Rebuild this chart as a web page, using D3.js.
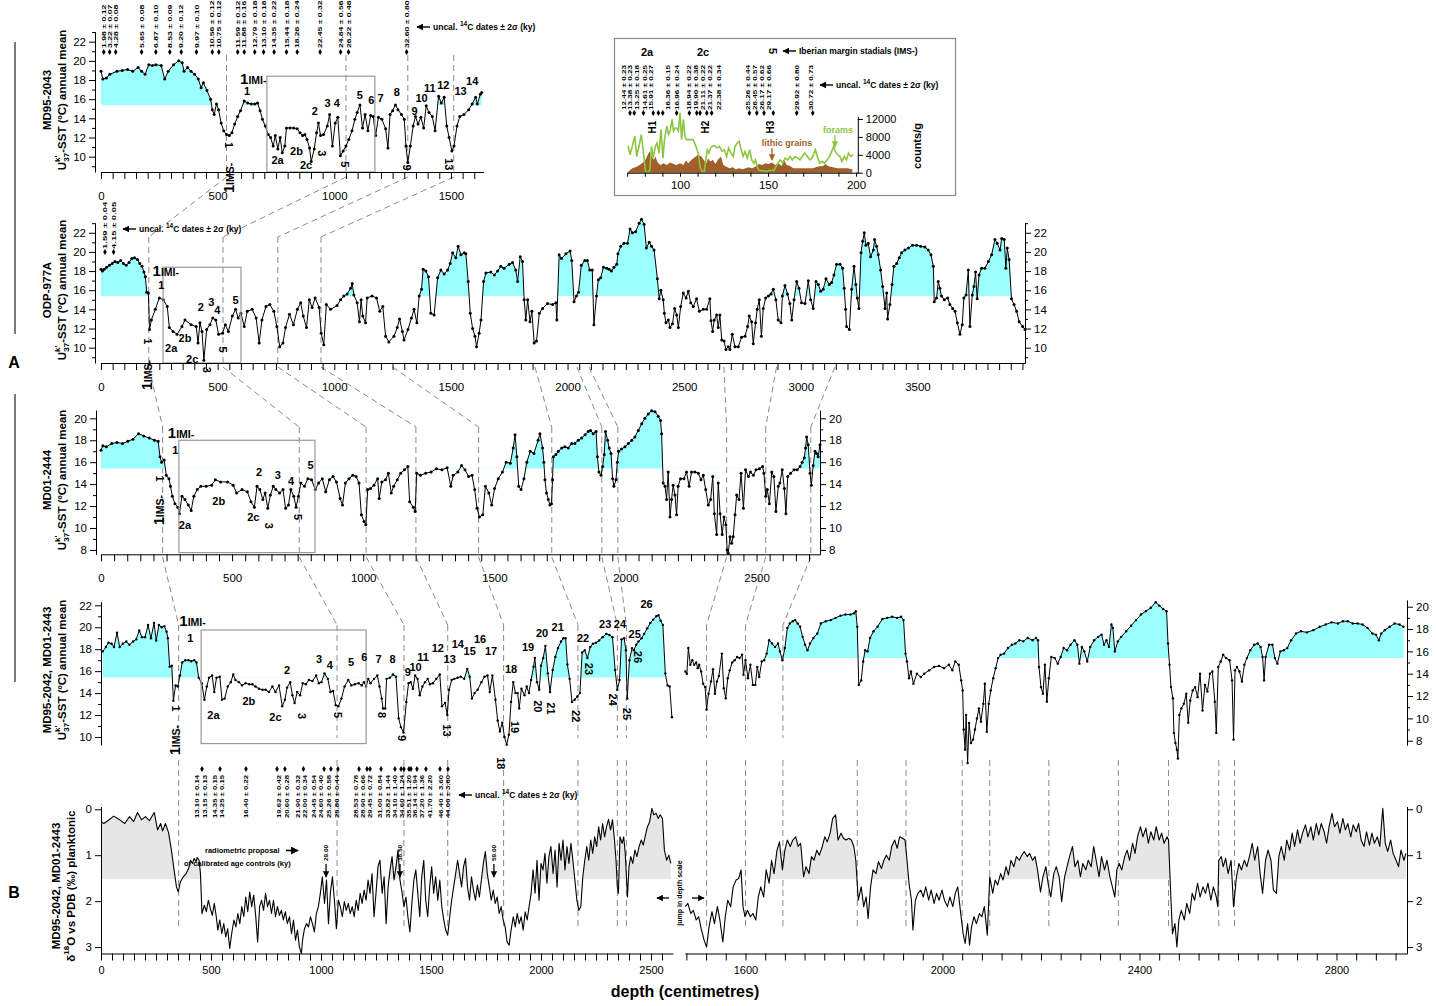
<!DOCTYPE html>
<html>
<head>
<meta charset="utf-8">
<title>SST and d18O records</title>
<script src="https://d3js.org/d3.v7.min.js"></script>
<style>
  body { margin: 0; background: #fff; }
  svg { display: block; }
</style>
</head>
<body>
<svg id="fig" width="1436" height="1006"></svg>
<script>
// ---------- data (depth cm, value) ----------
const md952043 = [[0,18.9],[8,18.1],[23,18.2],[38,18.6],[68,18.9],[91,19.0],[114,19.1],[136,18.9],[159,19.3],[174,18.9],[189,18.6],[205,19.6],[220,19.5],[235,19.6],[258,19.5],[273,18.1],[288,18.9],[311,19.6],[333,20.0],[348,19.8],[356,18.9],[371,19.3],[386,18.9],[401,18.6],[417,18.1],[429,17.2],[439,17.7],[454,16.9],[470,16.0],[477,14.9],[485,14.4],[495,15.5],[504,14.9],[515,13.5],[526,12.7],[538,12.3],[550,12.2],[561,12.5],[573,13.4],[586,14.2],[598,14.8],[614,15.8],[629,15.6],[644,15.5],[659,15.5],[671,15.6],[682,14.8],[692,13.9],[704,13.2],[717,12.3],[727,12.0],[738,11.1],[747,12.2],[758,10.8],[768,12.0],[777,10.4],[788,11.1],[795,13.0],[810,13.0],[826,13.0],[841,12.9],[853,12.5],[864,12.2],[874,12.3],[883,11.8],[894,10.9],[901,9.5],[914,10.8],[924,12.5],[932,13.5],[941,12.2],[954,12.3],[970,13.2],[980,14.4],[992,11.1],[1004,13.5],[1015,14.1],[1026,10.1],[1038,10.6],[1050,11.1],[1062,11.8],[1076,12.7],[1088,13.9],[1098,14.6],[1110,15.4],[1121,13.0],[1132,14.4],[1144,12.7],[1156,14.3],[1167,14.2],[1177,12.2],[1189,14.1],[1204,13.9],[1220,12.9],[1230,10.9],[1239,14.4],[1250,14.8],[1262,15.4],[1273,14.9],[1288,14.4],[1300,13.9],[1307,11.1],[1315,9.4],[1326,11.1],[1338,13.2],[1348,14.2],[1359,13.4],[1371,14.1],[1383,13.0],[1394,15.3],[1406,14.6],[1420,14.2],[1432,12.7],[1447,16.3],[1459,15.6],[1471,16.2],[1482,13.2],[1492,12.0],[1504,10.6],[1513,11.1],[1526,13.2],[1538,14.2],[1556,14.4],[1576,14.9],[1591,15.5],[1606,16.2],[1613,15.5],[1626,16.5],[1632,16.7]];

const odp977a = [[0,18.2],[6,18.0],[14,18.2],[24,18.4],[36,18.6],[48,18.8],[60,19.0],[72,18.9],[84,19.1],[96,18.8],[108,18.6],[120,18.9],[132,19.3],[144,19.4],[156,19.2],[166,18.8],[176,18.5],[184,17.9],[190,17.4],[196,15.8],[203,15.7],[208,11.9],[216,12.9],[233,14.0],[250,15.2],[267,15.0],[284,14.3],[293,12.1],[309,11.7],[326,11.4],[347,12.2],[360,12.9],[386,12.4],[408,12.2],[416,10.5],[424,12.6],[433,11.7],[441,8.7],[453,11.9],[467,12.4],[479,13.1],[492,12.9],[504,11.4],[521,11.5],[533,12.4],[546,11.7],[563,13.3],[577,14.0],[588,13.1],[600,13.6],[614,12.2],[627,13.8],[648,14.0],[665,13.1],[678,10.5],[690,12.9],[707,14.3],[724,14.5],[741,13.8],[754,12.2],[766,10.1],[780,10.5],[791,12.1],[808,13.5],[825,12.4],[842,14.0],[856,14.7],[867,13.3],[881,12.1],[893,15.0],[905,14.2],[918,15.2],[935,14.2],[944,11.5],[955,10.3],[966,14.5],[984,14.0],[1012,14.4],[1027,15.0],[1041,15.4],[1055,15.6],[1070,16.2],[1077,16.7],[1084,15.5],[1098,14.7],[1108,12.7],[1115,15.0],[1122,13.3],[1134,12.6],[1141,15.2],[1162,15.4],[1181,15.2],[1195,13.8],[1208,14.3],[1220,11.2],[1234,10.6],[1256,11.2],[1270,12.1],[1280,13.0],[1292,11.7],[1299,10.8],[1316,11.9],[1331,13.1],[1342,14.0],[1354,12.6],[1364,15.4],[1374,16.1],[1381,18.2],[1393,18.0],[1404,17.4],[1414,13.6],[1428,13.4],[1443,17.3],[1457,18.1],[1471,17.7],[1486,18.1],[1497,18.8],[1507,19.9],[1521,19.4],[1531,20.6],[1543,19.7],[1557,19.9],[1564,19.8],[1574,16.9],[1583,13.6],[1593,12.0],[1603,11.2],[1610,10.1],[1621,11.5],[1629,12.9],[1640,16.9],[1650,17.8],[1671,17.9],[1686,17.6],[1700,18.0],[1714,18.5],[1728,18.3],[1750,18.7],[1764,18.9],[1778,18.1],[1786,16.9],[1797,19.5],[1807,19.0],[1814,15.0],[1821,12.9],[1829,15.0],[1839,12.7],[1847,13.8],[1857,10.5],[1867,10.7],[1879,13.6],[1893,14.1],[1914,14.6],[1936,14.5],[1950,14.7],[1954,12.9],[1964,19.7],[1974,19.3],[1993,19.8],[2011,20.1],[2018,19.1],[2028,14.8],[2038,15.4],[2047,15.8],[2059,18.6],[2074,19.1],[2085,19.1],[2095,18.1],[2106,18.1],[2113,12.4],[2124,15.4],[2132,17.1],[2142,17.3],[2154,18.4],[2168,18.3],[2178,18.2],[2188,18.0],[2199,18.4],[2211,18.7],[2216,19.8],[2228,20.6],[2242,20.9],[2257,20.9],[2268,22.4],[2278,22.0],[2292,22.1],[2307,23.0],[2317,23.4],[2328,22.9],[2338,20.4],[2350,21.0],[2360,20.6],[2371,20.2],[2385,17.2],[2393,15.1],[2400,16.0],[2410,15.0],[2415,13.6],[2422,12.6],[2432,12.9],[2439,12.1],[2450,12.5],[2459,14.1],[2468,13.4],[2475,12.1],[2485,14.3],[2496,15.7],[2508,15.2],[2518,15.9],[2528,14.7],[2539,14.3],[2553,15.1],[2565,13.8],[2582,14.0],[2596,14.0],[2610,15.1],[2615,12.8],[2622,11.7],[2629,12.9],[2639,13.4],[2646,12.1],[2653,13.4],[2661,10.8],[2671,10.7],[2679,9.8],[2689,10.1],[2696,9.8],[2706,11.4],[2718,10.1],[2732,10.1],[2746,11.1],[2761,11.2],[2772,12.2],[2779,13.3],[2789,12.7],[2796,10.4],[2806,12.6],[2813,14.0],[2822,15.0],[2831,11.2],[2839,14.1],[2849,15.2],[2861,15.4],[2872,15.6],[2882,16.1],[2893,15.0],[2903,12.9],[2915,12.6],[2921,15.4],[2932,16.5],[2943,15.6],[2953,14.6],[2961,12.9],[2971,15.0],[2982,16.9],[2992,16.2],[3003,14.7],[3018,14.6],[3032,17.0],[3042,15.0],[3053,14.1],[3065,16.9],[3075,16.6],[3085,15.9],[3096,16.1],[3108,17.2],[3122,16.6],[3132,16.8],[3142,17.6],[3153,18.7],[3168,18.7],[3179,18.3],[3186,16.2],[3192,14.0],[3196,12.2],[3208,11.9],[3218,16.1],[3228,18.5],[3236,16.6],[3242,15.2],[3249,14.1],[3258,19.9],[3265,21.1],[3272,22.0],[3279,20.7],[3289,20.9],[3299,19.5],[3311,20.2],[3316,21.3],[3325,20.6],[3332,19.7],[3342,18.1],[3351,16.4],[3361,14.1],[3368,15.7],[3372,13.0],[3382,14.5],[3391,16.6],[3399,18.5],[3411,18.8],[3422,19.4],[3432,19.9],[3446,20.2],[3461,20.4],[3479,20.7],[3496,20.7],[3514,20.6],[3532,20.5],[3546,20.2],[3558,19.7],[3568,18.5],[3572,14.8],[3582,15.2],[3589,16.9],[3596,16.2],[3603,15.4],[3615,15.0],[3629,15.2],[3639,14.5],[3651,14.1],[3661,13.8],[3671,12.6],[3682,11.4],[3692,12.4],[3699,15.2],[3708,15.5],[3718,18.1],[3725,12.2],[3735,15.5],[3742,16.4],[3749,17.9],[3756,15.1],[3764,17.6],[3775,18.3],[3789,18.3],[3804,19.0],[3818,19.7],[3832,21.3],[3842,20.9],[3854,20.2],[3861,21.4],[3872,21.3],[3879,18.3],[3885,20.4],[3893,19.2],[3903,15.1],[3914,14.5],[3925,13.8],[3936,12.7],[3951,12.2],[3961,11.9]];

const md012444 = [[0,17.1],[7,17.5],[20,17.4],[41,17.7],[61,17.8],[82,17.7],[102,17.9],[122,18.1],[143,18.6],[163,18.4],[184,18.2],[204,18.0],[218,17.9],[225,16.5],[231,16.0],[241,16.2],[249,14.8],[259,14.5],[265,13.8],[272,12.9],[282,12.2],[293,11.9],[299,11.3],[309,12.9],[320,12.6],[333,12.1],[344,11.6],[354,12.9],[367,13.5],[381,13.8],[401,13.8],[422,13.9],[436,14.4],[456,14.2],[483,14.2],[504,13.9],[517,13.2],[538,13.5],[558,13.3],[572,12.4],[585,11.9],[595,13.8],[606,13.5],[617,12.6],[626,13.2],[636,11.8],[646,13.0],[657,13.8],[667,13.5],[681,13.2],[694,13.5],[704,11.8],[715,12.1],[724,13.5],[735,12.9],[744,11.9],[753,12.9],[762,14.1],[776,13.8],[789,14.5],[803,14.4],[817,13.5],[830,14.1],[844,14.5],[857,13.3],[871,14.4],[885,14.7],[898,14.2],[912,12.7],[921,12.1],[932,14.1],[946,14.5],[960,14.8],[973,14.7],[984,14.1],[993,11.2],[1003,10.6],[1010,10.3],[1017,13.5],[1028,13.6],[1041,13.9],[1055,14.5],[1061,12.7],[1071,14.2],[1085,14.4],[1096,15.0],[1107,13.2],[1116,13.8],[1130,14.4],[1143,15.0],[1157,15.3],[1170,15.6],[1177,12.4],[1191,11.9],[1198,11.5],[1204,15.0],[1218,14.8],[1238,15.0],[1259,15.1],[1279,15.4],[1300,15.3],[1320,15.5],[1334,13.8],[1343,14.8],[1361,15.1],[1375,15.7],[1388,15.3],[1402,14.7],[1415,14.8],[1425,13.5],[1434,11.8],[1443,11.0],[1456,11.2],[1466,13.8],[1479,13.2],[1490,12.1],[1501,13.6],[1515,14.5],[1531,15.1],[1545,16.0],[1561,15.9],[1572,17.3],[1579,18.5],[1586,16.5],[1593,13.8],[1602,13.5],[1613,14.5],[1624,16.0],[1637,17.0],[1651,16.8],[1667,18.0],[1674,18.6],[1684,17.3],[1689,16.0],[1693,14.4],[1699,13.2],[1706,12.6],[1712,12.1],[1718,12.2],[1722,14.4],[1725,16.5],[1735,16.7],[1744,17.0],[1757,17.3],[1769,17.4],[1782,17.3],[1795,17.7],[1807,17.7],[1820,18.0],[1833,18.2],[1846,18.5],[1858,18.8],[1867,18.9],[1877,18.6],[1888,18.8],[1893,16.5],[1899,15.1],[1907,14.8],[1913,15.6],[1919,16.7],[1924,18.8],[1932,18.0],[1938,17.3],[1945,16.8],[1951,14.5],[1956,13.8],[1964,14.4],[1969,16.0],[1974,17.0],[1985,17.2],[1998,17.4],[2011,17.7],[2024,18.0],[2036,18.3],[2049,18.9],[2062,19.5],[2074,20.0],[2087,20.4],[2100,20.7],[2113,20.6],[2125,20.2],[2134,19.8],[2138,18.6],[2144,14.1],[2151,13.8],[2157,12.6],[2163,15.1],[2170,11.0],[2176,12.6],[2182,13.9],[2189,13.0],[2195,11.2],[2201,13.8],[2210,14.5],[2223,14.5],[2233,15.1],[2243,13.8],[2252,15.1],[2265,15.1],[2278,15.0],[2288,14.4],[2297,14.8],[2306,13.5],[2316,12.1],[2325,12.6],[2333,14.7],[2339,11.3],[2348,9.4],[2354,14.1],[2361,11.3],[2369,9.4],[2376,11.0],[2383,10.3],[2388,8.0],[2392,7.7],[2399,9.2],[2405,8.6],[2411,9.2],[2418,11.2],[2424,13.0],[2433,12.6],[2441,15.0],[2450,11.8],[2458,15.3],[2469,14.7],[2477,15.1],[2488,14.8],[2498,15.3],[2511,15.4],[2523,15.6],[2528,15.0],[2535,12.9],[2541,13.5],[2549,12.2],[2558,15.1],[2566,14.7],[2574,11.5],[2583,13.8],[2589,14.1],[2598,15.3],[2606,13.6],[2612,11.3],[2619,14.7],[2630,15.0],[2643,15.3],[2655,15.3],[2666,15.6],[2674,16.0],[2682,16.4],[2687,17.3],[2691,18.3],[2697,17.6],[2704,15.0],[2709,13.9],[2716,15.7],[2723,17.0],[2729,16.8],[2735,16.5],[2742,17.6]];

const md952042sstA = [[8,17.8],[22,18.2],[34,18.6],[48,18.5],[59,18.2],[73,19.5],[85,18.2],[99,18.5],[115,18.7],[129,18.4],[146,18.7],[160,18.9],[174,19.7],[186,19.1],[200,19.1],[214,20.2],[227,19.0],[241,20.4],[251,18.8],[263,20.2],[276,20.0],[288,20.1],[298,19.6],[304,19.0],[312,16.4],[322,16.5],[329,13.3],[339,14.7],[349,14.6],[359,15.6],[369,16.8],[383,17.0],[398,17.0],[410,16.9],[424,17.0],[434,16.8],[444,15.4],[458,14.9],[470,13.4],[481,14.6],[491,15.4],[505,15.6],[515,14.1],[525,15.4],[540,15.5],[550,13.4],[562,13.5],[576,14.6],[590,15.0],[601,15.7],[611,15.2],[627,15.0],[641,14.7],[657,14.9],[674,14.8],[688,14.8],[702,14.6],[718,14.4],[734,14.3],[748,14.3],[763,14.1],[779,14.6],[793,14.1],[809,14.7],[824,12.8],[836,13.4],[846,14.5],[860,15.0],[870,13.8],[880,13.1],[892,14.1],[905,13.8],[917,14.9],[931,14.8],[945,15.2],[961,15.1],[978,15.6],[990,14.9],[1002,15.0],[1016,15.8],[1031,15.3],[1043,14.1],[1055,14.2],[1067,12.9],[1079,12.8],[1093,13.5],[1107,14.6],[1124,15.2],[1138,14.7],[1154,14.8],[1171,14.9],[1185,14.7],[1195,15.0],[1205,14.6],[1215,15.3],[1225,14.9],[1241,15.3],[1256,15.6],[1266,14.6],[1276,13.5],[1282,12.6],[1292,12.6],[1298,15.3],[1313,15.4],[1327,15.7],[1341,15.5],[1353,11.7],[1363,10.9],[1375,10.4],[1388,13.2],[1398,14.9],[1408,15.0],[1418,14.4],[1428,15.6],[1439,15.3],[1449,13.8],[1461,14.6],[1473,15.0],[1485,15.3],[1495,14.8],[1509,14.9],[1524,15.3],[1540,15.7],[1550,12.8],[1564,13.1],[1574,12.0],[1582,14.3],[1594,15.2],[1606,15.3],[1621,15.4],[1635,15.5],[1651,15.3],[1665,16.2],[1676,15.5],[1686,13.5],[1698,14.0],[1712,14.3],[1729,15.0],[1743,15.5],[1757,15.6],[1767,14.1],[1779,15.6],[1793,13.4],[1803,11.5],[1813,10.5],[1824,11.3],[1834,10.0],[1844,9.3],[1854,10.2],[1864,13.2],[1874,15.0],[1884,14.0],[1894,14.0],[1901,12.6],[1911,14.4],[1925,13.8],[1935,14.6],[1945,14.0],[1955,15.2],[1966,16.4],[1972,17.2],[1982,15.0],[1992,14.3],[2000,16.5],[2010,17.2],[2020,18.3],[2031,15.8],[2041,14.1],[2053,16.1],[2065,17.3],[2077,18.1],[2091,18.7],[2102,19.0],[2112,19.0],[2120,16.6],[2130,15.3],[2141,13.2],[2153,13.4],[2165,13.7],[2177,14.0],[2187,17.7],[2199,17.9],[2211,17.2],[2224,18.2],[2236,18.5],[2250,18.6],[2264,18.8],[2280,19.1],[2297,19.4],[2311,19.3],[2325,19.1],[2337,16.1],[2347,14.3],[2357,15.2],[2366,18.9],[2378,19.0],[2386,17.9],[2392,13.5],[2402,17.0],[2414,18.1],[2422,17.9],[2433,18.4],[2443,18.7],[2457,19.0],[2469,19.4],[2483,19.9],[2497,20.4],[2510,20.7],[2524,21.0],[2534,21.1],[2544,20.6],[2554,20.2],[2565,15.8],[2575,14.7],[2585,14.6],[2595,11.8]];

const md952042sstB = [[1478,14.2],[1481,14.0],[1484,16.3],[1488,14.8],[1492,15.2],[1496,14.8],[1500,15.0],[1503,14.5],[1506,14.8],[1510,14.2],[1514,13.1],[1518,12.8],[1521,10.8],[1525,12.2],[1530,13.3],[1534,14.4],[1538,12.2],[1542,13.3],[1546,13.8],[1552,15.8],[1556,12.7],[1560,11.8],[1564,13.6],[1568,14.3],[1573,15.0],[1578,15.2],[1583,15.5],[1588,15.4],[1593,15.7],[1596,13.9],[1600,15.2],[1605,13.6],[1610,14.8],[1615,13.0],[1620,13.0],[1624,14.6],[1628,13.7],[1633,15.1],[1638,15.2],[1643,15.8],[1648,17.0],[1654,16.7],[1660,16.4],[1666,16.7],[1670,16.0],[1675,15.2],[1680,16.3],[1685,18.1],[1690,18.5],[1696,18.7],[1701,18.8],[1706,18.5],[1711,18.2],[1716,17.3],[1721,16.6],[1726,16.1],[1731,16.7],[1738,17.2],[1746,17.6],[1753,18.5],[1763,18.7],[1773,18.8],[1783,19.0],[1793,19.2],[1803,19.3],[1813,19.3],[1820,19.4],[1824,19.6],[1827,18.2],[1830,13.0],[1835,13.4],[1839,15.1],[1843,16.1],[1848,16.0],[1853,17.2],[1860,17.8],[1868,18.2],[1878,18.9],[1888,19.0],[1898,19.1],[1908,19.0],[1916,19.1],[1921,18.8],[1925,15.8],[1928,15.1],[1932,13.6],[1936,14.2],[1941,13.1],[1948,14.0],[1956,13.7],[1963,14.0],[1973,14.3],[1983,14.6],[1993,14.7],[2003,14.5],[2013,14.8],[2020,14.3],[2026,15.1],[2033,14.8],[2038,13.4],[2041,12.5],[2043,9.0],[2046,7.2],[2048,10.3],[2051,6.0],[2054,9.6],[2058,7.8],[2062,8.1],[2066,9.0],[2070,10.0],[2074,10.9],[2078,9.7],[2083,11.3],[2086,13.1],[2090,8.8],[2094,11.3],[2098,12.5],[2103,13.6],[2108,14.5],[2113,15.4],[2118,15.7],[2125,15.8],[2133,16.3],[2141,16.6],[2148,16.7],[2156,17.0],[2164,16.9],[2173,17.2],[2183,17.0],[2190,17.2],[2194,17.0],[2196,14.6],[2200,12.8],[2204,12.2],[2208,14.8],[2212,11.5],[2216,13.6],[2221,15.5],[2228,15.4],[2234,14.9],[2240,15.5],[2246,16.3],[2253,16.1],[2260,16.6],[2268,17.0],[2274,16.6],[2278,14.9],[2283,16.4],[2288,16.0],[2294,15.1],[2300,16.4],[2308,17.0],[2316,17.3],[2323,17.5],[2328,16.6],[2333,17.0],[2338,16.4],[2343,18.4],[2346,18.1],[2350,16.0],[2356,16.9],[2363,17.3],[2373,17.8],[2383,18.3],[2393,18.8],[2403,19.3],[2413,19.6],[2423,19.9],[2433,20.4],[2440,20.1],[2448,19.8],[2455,19.6],[2458,16.7],[2461,14.8],[2464,12.8],[2468,11.8],[2470,8.7],[2473,7.8],[2476,7.2],[2478,6.4],[2481,10.3],[2485,10.9],[2490,11.3],[2495,12.2],[2499,9.6],[2503,11.6],[2508,12.5],[2513,12.8],[2518,11.9],[2523,14.0],[2528,10.7],[2533,13.0],[2538,12.4],[2543,14.0],[2548,14.2],[2553,11.5],[2556,8.7],[2560,14.6],[2565,15.1],[2570,15.7],[2576,15.4],[2583,15.2],[2588,13.4],[2591,8.1],[2594,14.3],[2598,14.6],[2603,14.2],[2608,13.3],[2613,14.8],[2618,15.4],[2625,16.1],[2633,16.6],[2640,16.7],[2646,16.4],[2650,15.5],[2653,13.4],[2656,15.5],[2663,16.6],[2670,16.6],[2675,15.4],[2680,14.9],[2686,16.0],[2693,16.1],[2700,16.3],[2708,17.0],[2718,17.6],[2728,17.8],[2740,17.7],[2753,17.9],[2766,18.2],[2778,18.4],[2790,18.6],[2803,18.5],[2813,18.7],[2823,18.7],[2833,18.5],[2843,18.5],[2853,18.4],[2863,18.1],[2873,17.6],[2880,17.5],[2886,17.0],[2891,17.6],[2898,17.9],[2908,18.2],[2918,18.5],[2928,18.4],[2936,18.2]];

const d18oA = [[0,0.27],[13,0.31],[31,0.25],[58,0.15],[85,0.23],[108,0.31],[130,0.16],[148,0.27],[166,0.07],[184,0.23],[202,0.16],[220,0.25],[242,0.07],[257,0.45],[271,0.31],[280,0.47],[293,0.31],[307,0.51],[320,0.89],[332,1.32],[343,1.69],[351,1.80],[361,1.58],[374,1.47],[387,1.40],[398,1.29],[407,1.11],[416,1.18],[423,1.07],[432,1.14],[437,1.05],[446,1.11],[452,1.40],[459,2.27],[470,2.09],[479,2.23],[488,1.98],[497,2.16],[506,2.31],[515,2.05],[524,2.34],[531,2.63],[540,2.41],[549,2.71],[558,2.49],[567,2.78],[576,2.60],[585,3.03],[594,2.71],[604,2.41],[613,2.56],[622,2.27],[631,2.49],[640,2.12],[649,2.34],[658,1.91],[667,2.23],[676,1.80],[685,2.12],[694,1.87],[703,2.31],[712,2.89],[721,2.12],[730,1.98],[739,2.20],[748,1.83],[757,2.12],[766,1.98],[775,2.27],[784,1.98],[793,2.34],[802,2.12],[811,2.31],[820,2.20],[829,2.41],[838,2.23],[847,2.49],[857,2.34],[866,2.71],[875,2.41],[884,2.85],[893,2.63],[902,3.0],[911,3.14],[916,2.85],[925,2.60],[934,2.49],[943,2.56],[952,2.34],[961,2.49],[970,2.67],[979,2.27],[988,2.12],[997,1.83],[1006,1.47],[1016,2.05],[1025,1.54],[1034,2.49],[1043,1.80],[1052,1.47],[1061,1.98],[1070,2.60],[1079,1.98],[1088,2.12],[1097,2.34],[1106,2.01],[1115,2.20],[1124,2.05],[1133,2.27],[1142,2.12],[1151,2.34],[1160,1.98],[1169,2.20],[1178,1.83],[1187,2.05],[1196,1.76],[1205,1.98],[1214,1.54],[1223,1.83],[1232,1.40],[1241,2.34],[1250,1.83],[1259,1.25],[1268,1.11],[1278,1.83],[1287,1.47],[1296,2.49],[1305,1.69],[1314,1.32],[1323,1.03],[1332,1.54],[1341,1.25],[1350,0.89],[1359,1.54],[1368,1.80],[1377,2.12],[1386,1.91],[1395,2.34],[1404,2.67],[1413,2.05],[1422,1.54],[1431,1.32],[1440,1.83],[1449,2.34],[1458,1.47],[1467,1.11],[1476,1.98],[1485,2.34],[1494,1.69],[1503,1.25],[1512,1.83],[1521,1.47],[1531,1.98],[1540,1.54],[1549,2.12],[1558,2.41],[1567,2.63],[1576,2.74],[1585,2.34],[1594,1.98],[1603,1.69],[1612,1.40],[1621,1.11],[1630,1.40],[1639,1.69],[1648,1.25],[1657,1.07],[1666,1.69],[1675,1.98],[1684,1.47],[1693,1.76],[1702,1.98],[1711,1.65],[1720,1.91],[1729,1.54],[1738,1.18],[1747,0.92],[1756,1.40],[1765,1.69],[1774,1.98],[1783,1.76],[1792,2.05],[1801,1.91],[1810,2.27],[1819,2.12],[1828,2.41],[1837,2.56],[1846,2.89],[1855,2.96],[1864,2.63],[1874,2.34],[1883,2.56],[1892,2.27],[1901,2.49],[1910,2.34],[1919,2.63],[1928,2.23],[1937,2.41],[1946,2.12],[1955,1.83],[1964,1.32],[1973,1.83],[1982,1.11],[1991,1.98],[2000,1.18],[2009,1.32],[2018,0.96],[2027,1.61],[2036,1.03],[2045,0.81],[2055,1.40],[2064,0.89],[2073,1.69],[2082,0.74],[2091,1.11],[2100,0.67],[2109,1.32],[2118,0.81],[2127,1.18],[2136,0.74],[2145,1.11],[2154,1.54],[2163,1.98],[2172,2.20],[2181,2.12],[2190,1.47],[2199,1.11],[2208,0.81],[2217,1.11],[2226,0.67],[2235,0.96],[2244,0.60],[2253,0.81],[2262,0.38],[2271,0.67],[2280,0.31],[2289,0.60],[2298,0.38],[2307,0.22],[2316,0.45],[2325,0.23],[2334,0.67],[2341,1.11],[2347,1.69],[2352,1.83],[2359,0.60],[2369,0.74],[2376,0.60],[2383,0.96],[2393,1.91],[2400,1.25],[2408,1.03],[2417,1.18],[2427,0.89],[2436,1.03],[2446,0.81],[2456,0.67],[2465,0.78],[2475,0.56],[2484,0.38],[2494,0.27],[2504,-0.02],[2513,0.12],[2523,0.09],[2533,0.20],[2542,0.12],[2552,0.20],[2561,0.89],[2571,1.11],[2581,1.00],[2590,1.18]];

const d18oB = [[1478,2.12],[1483,2.05],[1489,2.27],[1494,2.20],[1500,2.41],[1505,2.34],[1510,2.60],[1516,2.85],[1521,3.0],[1526,2.56],[1532,2.23],[1537,2.49],[1543,2.12],[1548,2.41],[1554,2.89],[1559,2.34],[1564,1.98],[1570,2.12],[1575,1.69],[1581,1.54],[1586,1.51],[1591,1.32],[1595,2.12],[1599,2.34],[1604,2.20],[1610,2.34],[1615,2.27],[1621,2.41],[1626,1.91],[1631,1.69],[1637,1.91],[1642,1.32],[1648,1.61],[1653,1.11],[1658,1.40],[1664,0.89],[1669,0.71],[1675,1.32],[1680,0.89],[1685,0.67],[1691,0.81],[1696,0.67],[1702,0.60],[1707,0.81],[1712,0.74],[1718,1.47],[1723,1.25],[1729,1.40],[1734,1.03],[1739,1.11],[1745,0.89],[1750,1.00],[1756,0.81],[1761,0.60],[1766,0.71],[1772,0.52],[1777,0.20],[1783,0.12],[1788,0.67],[1794,0.52],[1799,0.63],[1804,0.67],[1810,0.63],[1815,0.67],[1820,0.81],[1824,1.11],[1829,1.98],[1835,1.69],[1840,2.12],[1845,1.91],[1849,2.38],[1854,1.69],[1859,1.32],[1865,1.40],[1870,1.14],[1876,1.29],[1881,1.11],[1886,1.00],[1892,1.11],[1897,0.81],[1903,0.67],[1908,0.85],[1913,0.60],[1919,0.63],[1924,0.67],[1928,1.11],[1932,1.61],[1937,1.98],[1940,2.63],[1945,1.98],[1950,1.83],[1956,1.76],[1961,1.91],[1966,1.69],[1972,1.98],[1977,1.76],[1983,2.05],[1988,1.83],[1993,1.98],[1999,1.76],[2004,1.98],[2010,2.12],[2015,1.91],[2021,2.12],[2026,1.83],[2031,1.69],[2037,2.27],[2042,2.71],[2046,2.92],[2051,2.49],[2055,2.96],[2059,2.56],[2064,2.34],[2069,2.49],[2075,2.27],[2080,2.34],[2085,2.12],[2091,2.74],[2096,1.47],[2102,1.83],[2107,1.54],[2112,1.65],[2118,1.40],[2123,1.54],[2129,1.25],[2134,1.43],[2139,1.11],[2145,1.25],[2150,1.03],[2156,1.11],[2161,1.00],[2166,0.92],[2172,1.03],[2177,0.96],[2183,1.11],[2188,1.03],[2193,1.32],[2199,1.80],[2204,1.47],[2210,1.25],[2215,1.65],[2220,1.91],[2226,1.40],[2231,1.25],[2237,1.47],[2242,2.01],[2248,1.47],[2253,1.25],[2258,1.03],[2264,0.81],[2269,1.25],[2275,1.11],[2280,1.47],[2285,1.18],[2291,1.32],[2296,1.11],[2302,1.25],[2307,0.81],[2312,1.11],[2318,1.47],[2323,1.03],[2329,1.32],[2334,1.11],[2340,1.47],[2345,1.69],[2350,1.91],[2354,1.32],[2359,1.18],[2364,1.32],[2370,1.03],[2375,0.89],[2380,1.11],[2386,0.74],[2391,0.96],[2396,0.60],[2402,0.38],[2407,0.60],[2413,0.41],[2418,0.74],[2423,0.49],[2429,0.67],[2434,0.38],[2440,0.67],[2445,0.52],[2450,0.74],[2456,0.60],[2459,0.67],[2464,1.98],[2467,2.71],[2472,2.49],[2476,3.0],[2480,2.41],[2485,2.20],[2491,2.41],[2496,2.05],[2502,2.27],[2507,1.83],[2512,1.98],[2518,1.61],[2523,1.91],[2529,1.69],[2534,1.83],[2539,1.61],[2545,1.98],[2550,1.69],[2556,1.91],[2559,2.12],[2561,1.11],[2566,1.03],[2570,1.25],[2575,1.07],[2580,1.40],[2586,1.11],[2591,2.12],[2597,1.47],[2602,1.18],[2607,1.32],[2613,1.11],[2618,1.25],[2624,1.00],[2629,0.74],[2634,1.11],[2640,0.81],[2645,1.40],[2650,1.83],[2656,1.11],[2661,0.89],[2667,1.11],[2672,1.76],[2678,1.83],[2683,1.03],[2688,0.81],[2694,1.11],[2699,0.67],[2705,0.89],[2710,0.52],[2715,0.81],[2721,0.45],[2726,0.74],[2731,0.52],[2737,0.34],[2742,0.60],[2748,0.38],[2753,0.67],[2759,0.31],[2764,0.56],[2769,0.31],[2775,0.49],[2780,0.74],[2785,0.38],[2791,0.09],[2796,0.38],[2802,0.27],[2807,0.52],[2813,0.20],[2818,0.45],[2823,0.31],[2829,0.60],[2834,0.34],[2840,0.49],[2845,0.31],[2850,0.67],[2856,0.81],[2861,0.49],[2867,0.78],[2872,0.52],[2877,0.74],[2883,0.60],[2888,0.81],[2894,-0.02],[2899,0.74],[2904,0.92],[2910,0.67],[2915,0.96],[2921,1.11],[2926,1.25],[2931,0.89],[2937,1.11],[2941,0.96]];

// inset: forams and lithic grains (counts/g) against depth
const insetForams = [[70.5,6040],[71.6,4000],[72.9,5900],[74.3,8150],[75.4,3620],[76.7,5900],[78.0,8530],[79.5,3620],[80.4,230],[81.7,0],[82.8,600],[83.8,5900],[84.7,3250],[86.0,5900],[86.9,6640],[88.1,4380],[89.2,9660],[90.3,3250],[91.2,7400],[92.5,10400],[93.5,8530],[94.4,9290],[95.5,11900],[96.3,9290],[97.2,10000],[98.1,10000],[99.1,9290],[100,13400],[100.9,7400],[101.9,11900],[102.8,8150],[103.7,7400],[105.6,7400],[107.5,7400],[109.0,5900],[110.3,4380],[111.6,980],[112.7,230],[113.8,230],[114.6,2870],[115.5,5130],[116.4,4380],[117.4,5510],[118.3,5900],[119.6,6040],[121.1,5510],[122.4,5900],[123.9,4760],[125.2,5130],[126.5,3620],[127.6,5510],[128.9,4380],[130.2,3620],[131.3,5900],[132.6,6640],[133.6,7020],[134.5,5510],[135.8,3620],[136.9,4760],[138.2,3250],[139.6,5130],[140.7,2870],[142.0,2110],[142.9,2870],[143.8,1360],[144.8,600],[146.3,450],[147.6,450],[149.4,230],[151.3,600],[153.2,450],[154.5,1360],[155.6,2110],[156.9,2870],[158.2,2110],[159.7,3250],[161.2,2870],[162.5,3620],[163.8,2870],[165.3,3620],[166.8,3250],[168.1,2870],[169.4,3620],[170.9,4380],[172.4,3620],[173.7,2870],[175.0,3250],[176.1,4380],[176.9,5130],[178.0,3620],[179.3,2110],[180.6,2490],[182.1,2110],[183.6,2870],[184.9,3620],[186.2,4760],[187.3,5900],[188.2,4760],[189.6,4000],[190.9,3620],[192.0,2490],[193.3,3620],[194.6,2870],[195.7,4380],[197.0,3620],[198.5,4000]];
const insetLithic = [[70.5,230],[72.9,980],[75.7,1360],[78.5,2110],[80.4,2870],[81.7,4000],[82.8,4760],[83.8,3620],[85.1,2870],[86.0,3620],[87.3,2260],[88.8,1740],[90.7,2110],[92.5,1740],[94.4,2260],[96.3,1960],[98.1,1740],[100,2110],[101.9,1740],[103.4,2720],[104.7,2110],[106.5,2870],[108.4,3470],[110.3,4000],[112.1,3620],[113.4,2870],[114.9,2110],[115.9,3250],[117.2,2490],[118.7,2870],[120.1,1960],[121.5,2870],[123.3,3620],[124.6,1740],[126.1,1360],[128.0,980],[129.9,1210],[131.7,750],[133.6,980],[135.4,750],[137.3,980],[139.2,1210],[141.0,980],[142.9,1360],[144.8,1960],[146.6,1740],[148.5,2110],[150.4,1960],[152.2,2260],[154.1,1740],[156.0,2110],[157.8,1510],[159.3,2720],[160.6,1740],[162.5,1510],[164.4,980],[167.2,980],[170.0,980],[172.8,980],[175.6,980],[178.4,1360],[181.2,1510],[182.5,1960],[184.0,1510],[186.8,1210],[189.6,980],[192.4,980],[195.1,980],[197.9,750]];

// radiocarbon dates (depth, label)
const p1Dates = [[12,"1.98 ± 0.12"],[37,"3.22 ± 0.07"],[63,"4.28 ± 0.08"],[174,"5.65 ± 0.08"],[235,"6.87 ± 0.10"],[295,"8.53 ± 0.09"],[344,"9.20 ± 0.12"],[409,"9.97 ± 0.10"],[477,"10.56 ± 0.12"],[505,"10.75 ± 0.12"],[586,"11.59 ± 0.12"],[614,"11.88 ± 0.16"],[659,"12.79 ± 0.18"],[697,"13.10 ± 0.18"],[742,"14.35 ± 0.22"],[795,"15.44 ± 0.18"],[841,"18.26 ± 0.24"],[939,"22.45 ± 0.32"],[1027,"24.84 ± 0.56"],[1061,"26.22 ± 0.48"],[1310,"32.60 ± 0.80"]];
const p2Dates = [[17,"1.59 ± 0.04"],[54,"4.15 ± 0.05"]];
const insetDates = [[68.2,"12.44 ± 0.23"],[71.6,"13.38 ± 0.23"],[75.6,"13.25 ± 0.18"],[80.1,"14.61 ± 0.25"],[83.5,"15.91 ± 0.27"],[93.2,"16.36 ± 0.15"],[98.3,"16.96 ± 0.24"],[105.1,"18.94 ± 0.22"],[109.1,"19.90 ± 0.38"],[113.1,"21.11 ± 0.22"],[117.0,"21.37 ± 0.22"],[122.2,"22.38 ± 0.34"],[138.6,"25.26 ± 0.44"],[142.6,"26.45 ± 0.57"],[146.6,"26.17 ± 0.62"],[150.6,"29.17 ± 0.66"],[166.5,"29.92 ± 0.80"],[174.4,"30.72 ± 0.73"]];
const insetDiamonds = [71.6,74.0,79.2,84.8,87.7,90.2,98.1,105.3,109.5,111.4,115.2,118.0,139.4,143.6,147.7,153.0,166.3,175.4];
const p5Dates = [[436,"13.10 ± 0.14"],[473,"13.15 ± 0.13"],[518,"14.35 ± 0.15"],[550,"14.25 ± 0.15"],[659,"16.40 ± 0.22"],[809,"19.62 ± 0.42"],[845,"20.60 ± 0.28"],[895,"21.90 ± 0.32"],[927,"22.00 ± 0.34"],[968,"24.45 ± 0.54"],[1000,"24.60 ± 0.40"],[1036,"25.26 ± 0.58"],[1073,"25.80 ± 0.44"],[1159,"28.53 ± 0.78"],[1191,"28.90 ± 0.66"],[1223,"29.45 ± 0.72"],[1268,"31.00 ± 0.84"],[1305,"33.82 ± 1.44"],[1336,"34.10 ± 1.40"],[1368,"34.60 ± 1.24"],[1400,"35.51 ± 1.20"],[1427,"36.14 ± 1.94"],[1459,"37.20 ± 1.36"],[1495,"41.70 ± 2.20"],[1545,"46.40 ± 3.60"],[1577,"44.00 ± 3.80"]];
const p5Diamonds = [459,541,659,800,836,920,1014,1045,1077,1173,1209,1223,1273,1336,1364,1377,1400,1409,1436,1477,1541,1577];
const p5CalAges = [[1023,"29.00"],[1359,"38.50"],[1786,"59.00"]];

// stadial / interstadial labels (depth, SST, text)
const p1Labels = [[626,16.8,"1"],[757,9.7,"2a"],[838,10.6,"2b"],[879,9.1,"2c"],[917,14.8,"2"],[971,15.6,"3"],[1011,15.6,"4"],[1109,16.4,"5"],[1159,15.9,"6"],[1198,16.1,"7"],[1268,16.7,"8"],[1344,14.8,"9"],[1374,16.1,"10"],[1409,17.2,"11"],[1467,17.5,"12"],[1541,16.8,"13"],[1591,17.9,"14"]];
const p1Rot = [[550,11.2,"1"],[947,10.35,"3"],[1045,9.2,"5"],[1310,8.85,"9"],[1492,9.2,"13"]];
const p2Labels = [[259,16.5,"1"],[301,10.0,"2a"],[360,11.0,"2b"],[391,8.8,"2c"],[428,14.2,"2"],[473,14.8,"3"],[499,13.9,"4"],[577,15.0,"5"]];
const p2Rot = [[200,10.66,"1"],[524,9.8,"5"],[453,7.7,"3"]];
const p3Labels = [[283,17.1,"1"],[320,10.3,"2a"],[449,12.5,"2b"],[581,11.0,"2c"],[603,15.1,"2"],[674,14.8,"3"],[725,14.3,"4"],[799,15.7,"5"]];
const p3Rot = [[225,14.5,"1"],[642,10.2,"3"],[750,11.0,"5"]];
const p4Labels = [[406,19.0,"1"],[511,12.0,"2a"],[672,13.3,"2b"],[793,11.8,"2c"],[846,16.1,"2"],[991,17.1,"3"],[1040,16.6,"4"],[1137,16.8,"5"],[1197,17.3,"6"],[1262,17.1,"7"],[1325,17.1,"8"],[1395,15.9,"9"],[1430,16.4,"10"],[1464,17.3,"11"],[1531,18.1,"12"],[1585,17.1,"13"],[1622,18.5,"14"],[1676,17.8,"15"],[1723,18.9,"16"],[1773,17.8,"17"],[1864,16.2,"18"],[1941,18.2,"19"],[2005,19.5,"20"],[2076,20.0,"21"],[2191,19.0,"22"],[2292,20.3,"23"],[2359,20.3,"24"],[2426,19.4,"25"],[2480,22.1,"26"]];
const p4Rot = [[339,12.6,"1"],[915,11.9,"3"],[1076,12.0,"5"],[1278,12.0,"8"],[1369,9.9,"9"],[1571,10.6,"13"],[1819,7.6,"18"],[1880,10.9,"19"],[1985,12.8,"20"],[2046,12.6,"21"],[2161,11.9,"22"],[2218,16.2,"23"],[2329,13.4,"24"],[2389,12.1,"25"],[2440,17.3,"26"]];
// [depth, value] of the "1IMI-" and "1IMS-" tags
const imiTags = [[596,17.6],[221,17.5],[255,18.2],[356,20.1]];
const imsTags = [[548,7.8],[196,7.15],[221,11.64],[335,9.72]];
// boxes [depth0, depth1, value0, value1]
const boxes = [[711,1174,8.4,18.4],[266,600,8.4,18.4],[297,816,7.75,18.0],[455,1205,9.4,19.75]];

// tie points between cores (depths)
const ties12 = [[538,205],[1050,523],[1315,758],[1512,943]];
const ties23 = [[205,235],[523,756],[758,1011],[943,1201],[1250,1440],[1860,1719],[2040,1910],[2092,1971],[2670,2386],[2896,2535],[3146,2707]];
const ties34 = [[235,353,"A"],[756,1073,"A"],[1011,1377,"A"],[1201,1576,"A"],[1440,1830,"A"],[1719,2168,"A"],[1910,2347,"A"],[1971,2388,"A"],[2386,1521,"B"],[2535,1600,"B"],[2707,1676,"B"]];
const ties5only = [1827,1926,2040,2096,2216,2357,2459,2561,2593];

const SST_THR = 15.4;
const D18O_THR = 1.52;

// ---------- drawing ----------
const FONT = '"Liberation Sans", Arial, Helvetica, sans-serif';
const CYAN = "#99ffff";
const GREY_FILL = "#e6e6e6";
const DASH = "#8a8a8a";

const svg = d3.select("#fig").attr("font-family", FONT);
svg.append("rect").attr("width", 1436).attr("height", 1006).attr("fill", "#fff");
const defs = svg.append("defs");
function marker(id, color) {
  defs.append("marker").attr("id", id).attr("viewBox", "0 0 10 10")
    .attr("refX", 9).attr("refY", 5).attr("markerWidth", 5).attr("markerHeight", 5)
    .attr("orient", "auto")
    .append("path").attr("d", "M0,0L10,5L0,10z").attr("fill", color);
}
marker("ahK", "#000");
marker("ahG", "#8cc63f");
marker("ahB", "#a0602a");

// scales
const x1 = d3.scaleLinear().domain([0, 1640]).range([101, 101 + 1640 * 0.2333]);
const y1 = d3.scaleLinear().domain([8.4, 23.05]).range([172, 31.6]);
const x2 = d3.scaleLinear().domain([0, 3961]).range([101, 1025]);
const y2 = d3.scaleLinear().domain([8.4, 23.05]).range([363, 222.7]);
const x3 = d3.scaleLinear().domain([0, 2742]).range([101, 820]);
const y3 = d3.scaleLinear().domain([7.6, 20.76]).range([554.3, 410]);
const xA = d3.scaleLinear().domain([0, 2600]).range([101, 673]);
const xB = d3.scaleLinear().domain([1477, 2943]).range([684.9, 1406.9]);
const y4A = d3.scaleLinear().domain([9.27, 22.33]).range([745, 601.7]);
const y4B = d3.scaleLinear().domain([7.6, 20.6]).range([745.2, 600]);
const y5 = d3.scaleLinear().domain([-0.06, 3.14]).range([806.5, 953.5]);
const xi = d3.scaleLinear().domain([70, 201]).range([627.2, 857.8]);
const yi = d3.scaleLinear().domain([0, 12000]).range([172.7, 119]);

const gConn = svg.append("g");
const gData = svg.append("g");
const gText = svg.append("g").attr("font-weight", "bold");
const gAxes = svg.append("g");

let clipN = 0;
function drawSeries(data, x, y, thr, fill, dots, r) {
  const id = "clip" + (clipN++);
  const top = Math.min(...y.range()) - 30;
  defs.append("clipPath").attr("id", id).append("rect")
    .attr("x", x.range()[0] - 2).attr("y", top)
    .attr("width", x.range()[1] - x.range()[0] + 4).attr("height", y(thr) - top);
  gData.append("path").datum(data).attr("clip-path", `url(#${id})`).attr("fill", fill)
    .attr("d", d3.area().x(d => x(d[0])).y0(y(thr)).y1(d => y(d[1])));
  gData.append("path").datum(data).attr("fill", "none").attr("stroke", "#000")
    .attr("stroke-width", dots ? 1 : 1.1).attr("stroke-linejoin", "round")
    .attr("d", d3.line().x(d => x(d[0])).y(d => y(d[1])));
  if (dots) {
    gData.append("g").selectAll("circle").data(data).join("circle")
      .attr("cx", d => x(d[0])).attr("cy", d => y(d[1])).attr("r", r).attr("fill", "#000");
  }
}

drawSeries(md952043, x1, y1, SST_THR, CYAN, true, 1.5);
drawSeries(odp977a, x2, y2, SST_THR, CYAN, true, 1.5);
drawSeries(md012444, x3, y3, SST_THR, CYAN, true, 1.5);
drawSeries(md952042sstA, xA, y4A, SST_THR, CYAN, true, 1.2);
drawSeries(md952042sstB, xB, y4B, SST_THR, CYAN, true, 1.2);
drawSeries(d18oA, xA, y5, D18O_THR, GREY_FILL, false);
drawSeries(d18oB, xB, y5, D18O_THR, GREY_FILL, false);

// connectors
function dline(xa, ya, xb, yb) {
  gConn.append("line").attr("x1", xa).attr("y1", ya).attr("x2", xb).attr("y2", yb)
    .attr("stroke", DASH).attr("stroke-width", 1).attr("stroke-dasharray", "6,4");
}
ties12.forEach(([a, b]) => {
  dline(x1(a), 55, x1(a), 172);
  dline(x1(a), 177, x2(b), 237);
  dline(x2(b), 237, x2(b), 363);
});
ties23.forEach(([a, b]) => {
  dline(x2(a), 367, x3(b), 427);
  dline(x3(b), 427, x3(b), 553);
});
ties34.forEach(([a, b, seg]) => {
  const xs = seg === "A" ? xA(b) : xB(b);
  dline(x3(a), 557, xs, 625);
  dline(xs, 625, xs, 738);
  dline(xs, 760, xs, 930);
});
ties5only.forEach(d => dline(xB(d), 760, xB(d), 930));

// boxes
const boxScales = [[x1, y1], [x2, y2], [x3, y3], [xA, y4A]];
boxes.forEach((b, i) => {
  const [sx, sy] = boxScales[i];
  gData.append("rect").attr("x", sx(b[0])).attr("y", sy(b[3]))
    .attr("width", sx(b[1]) - sx(b[0])).attr("height", sy(b[2]) - sy(b[3]))
    .attr("fill", "none").attr("stroke", "#999").attr("stroke-width", 1.2);
});

// axes
function styleAxis(g, size) {
  g.attr("font-family", FONT).attr("font-size", size || 11.5);
  g.selectAll("path.domain").attr("stroke", "#000");
  g.selectAll("line").attr("stroke", "#000");
}
function yAxis(scale, x, majors, minors, right) {
  const mk = right ? d3.axisRight : d3.axisLeft;
  const g = gAxes.append("g").attr("transform", `translate(${x},0)`);
  g.call(mk(scale).tickValues(majors).tickSize(6).tickSizeOuter(0).tickPadding(3).tickFormat(d3.format("d")));
  g.append("g").call(mk(scale).tickValues(minors).tickSize(3).tickFormat(""))
    .select(".domain").remove();
  styleAxis(g);
}
function xAxis(scale, y, ticks, every, pad, size) {
  const g = gAxes.append("g").attr("transform", `translate(0,${y})`);
  g.call(d3.axisBottom(scale).tickValues(ticks).tickSize(7).tickSizeOuter(0).tickPadding(pad)
    .tickFormat(d => d % every === 0 ? d : ""));
  styleAxis(g, size);
}
const r = (a, b, s) => d3.range(a, b + 0.001, s);

yAxis(y1, 95, r(10, 22, 2), r(9, 23, 2));
xAxis(x1, 172, r(0, 1600, 50), 500, 13);
yAxis(y2, 95, r(10, 22, 2), r(9, 23, 2));
yAxis(y2, 1025, r(10, 22, 2), r(9, 23, 2), true);
xAxis(x2, 363, r(0, 3950, 50), 500, 13);
yAxis(y3, 96, r(8, 20, 2), r(9, 19, 2));
yAxis(y3, 820, r(8, 20, 2), r(9, 19, 2), true);
xAxis(x3, 554.3, r(0, 2700, 50), 500, 13);
yAxis(y4A, 101, r(10, 22, 2), r(11, 21, 2));
yAxis(y4B, 1407, r(8, 20, 2), r(9, 19, 2), true);
yAxis(y5, 101, [0, 1, 2, 3], []);
yAxis(y5, 1407, [0, 1, 2, 3], [], true);
xAxis(xA, 953.5, r(0, 2550, 50), 500, 6, 11);
xAxis(xB, 953.5, r(1480, 2920, 40), 400, 6, 11);

// panel labels
function lab(g, x, y, t, rot, size) {
  return g.append("text").attr("transform", `translate(${x},${y}) rotate(${rot || 0})`)
    .attr("text-anchor", "middle").attr("dominant-baseline", "central")
    .attr("font-size", size || 11).text(t);
}
[[p1Labels, p1Rot, x1, y1], [p2Labels, p2Rot, x2, y2], [p3Labels, p3Rot, x3, y3]].forEach(([L, R, sx, sy]) => {
  L.forEach(d => lab(gText, sx(d[0]), sy(d[1]), d[2]));
  R.forEach(d => lab(gText, sx(d[0]), sy(d[1]), d[2], 90));
});
p4Labels.forEach(d => lab(gText, xA(d[0]), y4A(d[1]), d[2]));
p4Rot.forEach(d => lab(gText, xA(d[0]), y4A(d[1]), d[2], 90));

const tagScales = [[x1, y1], [x2, y2], [x3, y3], [xA, y4A]];
imiTags.forEach((d, i) => {
  const [sx, sy] = tagScales[i];
  const t = gText.append("text").attr("x", sx(d[0])).attr("y", sy(d[1]));
  t.append("tspan").attr("font-size", 15).text("1");
  t.append("tspan").attr("font-size", 10.5).text("IMI-");
});
imsTags.forEach((d, i) => {
  const [sx, sy] = tagScales[i];
  const t = gText.append("text").attr("transform", `translate(${sx(d[0]) + 5},${sy(d[1])}) rotate(-90)`)
    .attr("text-anchor", "middle");
  t.append("tspan").attr("font-size", 14).text("1");
  t.append("tspan").attr("font-size", 10.5).text("IMS-");
});

// dates: small narrow rotated text, stretched along its length
function dates(g, list, sx, yStart, size, perChar) {
  list.forEach(d => {
    g.append("text").attr("transform", `translate(${sx(d[0]) + 2.1},${yStart}) rotate(-90)`)
      .attr("font-size", size).attr("textLength", d[1].length * perChar)
      .attr("lengthAdjust", "spacingAndGlyphs").text(d[1]);
  });
}
function diamonds(g, list, sx, y) {
  list.forEach(d => g.append("path").attr("d", d3.symbol(d3.symbolDiamond, 11)())
    .attr("transform", `translate(${sx(d)},${y})`).attr("fill", "#000"));
}
dates(gText, p1Dates, x1, 48, 5.8, 3.95);
diamonds(gData, p1Dates.map(d => d[0]), x1, 52);
dates(gText, p2Dates, x2, 249, 6.2, 4.3);
diamonds(gData, p2Dates.map(d => d[0]), x2, 252);
dates(gText, p5Dates, xA, 818, 6.2, 3.6);
diamonds(gData, p5Diamonds, xA, 769);

function uncal(g, x, y) {
  g.append("line").attr("x1", x + 13).attr("y1", y).attr("x2", x).attr("y2", y)
    .attr("stroke", "#000").attr("stroke-width", 1.4).attr("marker-end", "url(#ahK)");
  const t = g.append("text").attr("x", x + 16).attr("y", y).attr("dominant-baseline", "central")
    .attr("font-size", 8.5).attr("font-weight", "bold");
  t.append("tspan").text("uncal. ");
  t.append("tspan").attr("font-size", 6.5).attr("baseline-shift", "super").text("14");
  t.append("tspan").text("C dates ± 2σ (ky)");
}
uncal(gText, 417, 27);
uncal(gText, 123, 229);
uncal(gText, 459, 795);

// calibrated age controls
p5CalAges.forEach(d => {
  const x = xA(d[0]);
  gText.append("text").attr("transform", `translate(${x + 2.2},${861}) rotate(-90)`)
    .attr("font-size", 6.2).attr("textLength", 16).attr("lengthAdjust", "spacingAndGlyphs").text(d[1]);
  gText.append("line").attr("x1", x).attr("y1", 864).attr("x2", x).attr("y2", 877)
    .attr("stroke", "#000").attr("stroke-width", 1.3).attr("marker-end", "url(#ahK)");
});
gText.append("text").attr("x", 205).attr("y", 853).attr("font-size", 7.5).text("radiometric proposal");
gText.append("line").attr("x1", 286).attr("y1", 850.5).attr("x2", 298).attr("y2", 850.5)
  .attr("stroke", "#000").attr("stroke-width", 1.6).attr("marker-end", "url(#ahK)");
gText.append("text").attr("x", 184).attr("y", 866).attr("font-size", 7.5).text("of calibrated age controls (ky)");
lab(gText, 679, 893, "jump in depth scale", -90, 7);
gText.append("line").attr("x1", 669).attr("y1", 898).attr("x2", 657).attr("y2", 898)
  .attr("stroke", "#000").attr("stroke-width", 1.3).attr("marker-end", "url(#ahK)");
gText.append("line").attr("x1", 692).attr("y1", 898).attr("x2", 704).attr("y2", 898)
  .attr("stroke", "#000").attr("stroke-width", 1.3).attr("marker-end", "url(#ahK)");

// y titles
function ytitle(x, y, line1, kind) {
  lab(gText, x, y, line1, -90, 11.5);
  const t = gText.append("text").attr("transform", `translate(${x + 15},${y}) rotate(-90)`)
    .attr("text-anchor", "middle").attr("dominant-baseline", "central").attr("font-size", 11.5);
  if (kind === "sst") {
    t.append("tspan").text("U");
    t.append("tspan").attr("font-size", 8).attr("baseline-shift", "super").text("k'");
    t.append("tspan").attr("font-size", 8).attr("dx", -6).attr("baseline-shift", "sub").text("37");
    t.append("tspan").text("-SST (ºC) annual mean");
  } else {
    t.append("tspan").text("δ");
    t.append("tspan").attr("font-size", 8).attr("baseline-shift", "super").text("18");
    t.append("tspan").text("O vs PDB (‰) planktonic");
  }
}
ytitle(47, 100, "MD95-2043", "sst");
ytitle(47, 290, "ODP-977A", "sst");
ytitle(47, 480, "MD01-2444", "sst");
ytitle(47, 670, "MD95-2042, MD01-2443", "sst");
ytitle(56, 886, "MD95-2042, MD01-2443", "d18o");

lab(gText, 14, 362, "A", 0, 16);
lab(gText, 14, 892, "B", 0, 16);
gAxes.append("line").attr("x1", 15).attr("x2", 15).attr("y1", 42).attr("y2", 334).attr("stroke", "#333").attr("stroke-width", 1.3);
gAxes.append("line").attr("x1", 15).attr("x2", 15).attr("y1", 394).attr("y2", 682).attr("stroke", "#333").attr("stroke-width", 1.3);

// depth title
gText.append("text").attr("x", 685).attr("y", 997).attr("text-anchor", "middle")
  .attr("font-size", 16).text("depth (centimetres)");

// ---------- inset ----------
const gIn = svg.append("g");
gIn.append("rect").attr("x", 614.5).attr("y", 38.5).attr("width", 341).attr("height", 157)
  .attr("fill", "#fff").attr("stroke", "#888").attr("stroke-width", 1.2);
gIn.append("path").datum(insetLithic).attr("fill", "#a0602a")
  .attr("d", d3.area().x(d => xi(d[0])).y0(yi(0)).y1(d => yi(d[1])));
gIn.append("path").datum(insetForams).attr("fill", "none").attr("stroke", "#8cc63f").attr("stroke-width", 1.6)
  .attr("d", d3.line().x(d => xi(d[0])).y(d => yi(d[1])));
const gix = gIn.append("g").attr("transform", `translate(0,${yi(0)})`);
gix.call(d3.axisBottom(xi).tickValues(r(70, 200, 10)).tickSize(4).tickSizeOuter(0).tickPadding(4)
  .tickFormat(d => d % 50 === 0 ? d : ""));
styleAxis(gix, 11.5);
const giy = gIn.append("g").attr("transform", `translate(${xi(201)},0)`);
giy.call(d3.axisRight(d3.scaleLinear().domain([0, 12600]).range([yi(0), yi(12600)]))
  .tickValues([0, 4000, 8000, 12000]).tickSize(5).tickSizeOuter(0).tickPadding(3)
  .tickFormat(d3.format("d")));
styleAxis(giy, 11);
lab(gIn, 917, 146, "counts/g", -90, 11).attr("font-weight", "bold");
const gInT = gIn.append("g").attr("font-weight", "bold");
dates(gInT, insetDates, xi, 110, 5.8, 3.75);
diamonds(gInT, insetDiamonds, xi, 113);
lab(gInT, 647, 52, "2a", 0, 11);
lab(gInT, 703, 52, "2c", 0, 11);
lab(gInT, 773, 51, "5", 90, 11);
gInT.append("line").attr("x1", 796).attr("y1", 51).attr("x2", 783).attr("y2", 51)
  .attr("stroke", "#000").attr("stroke-width", 1.4).attr("marker-end", "url(#ahK)");
gInT.append("text").attr("x", 799).attr("y", 51).attr("dominant-baseline", "central")
  .attr("font-size", 8.5).text("Iberian margin stadials (IMS-)");
uncal(gInT, 820, 85);
lab(gInT, 652, 127, "H1", -90, 10);
lab(gInT, 705, 127, "H2", -90, 10);
lab(gInT, 770, 127, "H3", -90, 10);
lab(gInT, 838, 130, "forams", 0, 9).attr("fill", "#8cc63f");
gInT.append("line").attr("x1", 835).attr("y1", 135).attr("x2", 835).attr("y2", 147)
  .attr("stroke", "#8cc63f").attr("stroke-width", 1.3).attr("marker-end", "url(#ahG)");
lab(gInT, 787, 143, "lithic grains", 0, 9).attr("fill", "#a0602a");
gInT.append("line").attr("x1", 772).attr("y1", 148).attr("x2", 772).attr("y2", 160)
  .attr("stroke", "#a0602a").attr("stroke-width", 1.3).attr("marker-end", "url(#ahB)");
</script>
</body>
</html>
